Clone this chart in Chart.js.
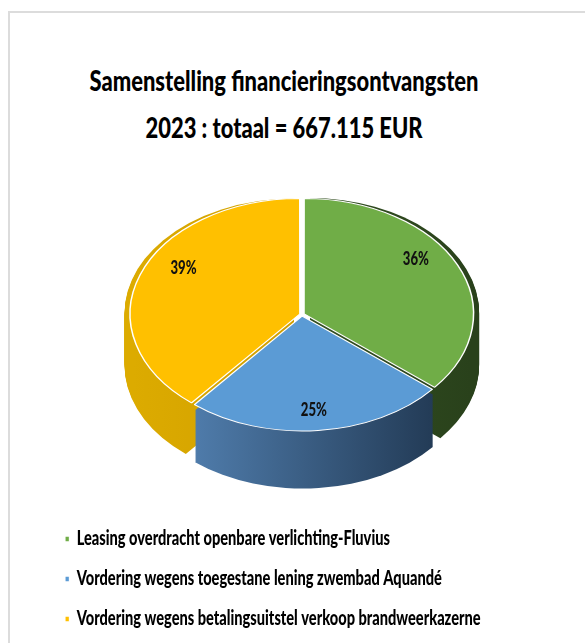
<!DOCTYPE html>
<html>
<head>
<meta charset="utf-8">
<script src="https://cdn.jsdelivr.net/npm/chart.js@4.4.1/dist/chart.umd.min.js"></script>
<style>
  body { margin: 0; background: #fff; }
  #frame { position: absolute; left: 8px; top: 11px; width: 577px; height: 632px; border-left: 2px solid #dcdcdc; border-top: 2px solid #dcdcdc; }
  #title { position: absolute; left: 0; top: 56px; width: 568px; text-align: center; font-family: Lato, sans-serif; font-weight: 900; font-size: 29px; line-height: 47px; color: #000; white-space: nowrap; }
  #chart { position: absolute; left: 0; top: 0; }
</style>
</head>
<body>
<div id="frame"></div>
<div id="title">Samenstelling financieringsontvangsten<br>2023 : totaal = 667.115 EUR</div>
<canvas id="chart" width="585" height="643"></canvas>
<script>
const categories = [
  'Leasing overdracht openbare verlichting-Fluvius',
  'Vordering wegens toegestane lening zwembad Aquandé',
  'Vordering wegens betalingsuitstel verkoop brandweerkazerne'
];
const amounts = [240161, 166779, 260175];
const topColors = ['#70ad47', '#5b9bd5', '#ffc000'];
const sideColors = [['#3e6029', '#29411b'], ['#5a8cc0', '#1c3149'], ['#dcab00', '#c49200']];

const K = 0.68;    // vertical squash of the pie disc
const DEPTH = 53;  // thickness of the disc in px
const FONT = 'Lato, sans-serif';

// the reference uses a narrow font, so text is squeezed horizontally
const m = document.createElement('canvas').getContext('2d');
m.font = '900 29px ' + FONT;
const titleSx = 389 / m.measureText('Samenstelling financieringsontvangsten').width;
document.getElementById('title').style.transform = 'scaleX(' + titleSx + ')';
m.font = '900 20px ' + FONT;
const legendSx = 404 / m.measureText(categories[2]).width;
const LEGEND_X = 65;

function slicePath(ctx, arc) {
  const p = arc.getProps(['x', 'y', 'startAngle', 'endAngle', 'outerRadius'], true);
  const off = arc.options.offset || 0;
  const mid = (p.startAngle + p.endAngle) / 2;
  const x = p.x + Math.cos(mid) * off, y = p.y + Math.sin(mid) * off;
  ctx.beginPath();
  ctx.moveTo(x, y);
  ctx.arc(x, y, p.outerRadius, p.startAngle, p.endAngle);
  ctx.closePath();
}

function squash(ctx, cx, cy, dy) {
  ctx.translate(cx, cy + dy);
  ctx.scale(1, K);
  ctx.translate(-cx, -cy);
}

const pie3d = {
  id: 'pie3d',
  afterLayout(chart) {
    // widen the legend box so its clip still covers the squeezed text
    const lg = chart.legend;
    lg.right = LEGEND_X + (lg.right - LEGEND_X) / legendSx;
    lg.width = lg.right - lg.left;
  },
  beforeDraw(chart) {
    // only the legend is drawn between here and beforeDatasetsDraw
    const ctx = chart.ctx;
    ctx.save();
    ctx.translate(LEGEND_X, 0);
    ctx.scale(legendSx, 1);
    ctx.translate(-LEGEND_X, 0);
  },
  beforeDatasetsDraw(chart) {
    const ctx = chart.ctx;
    ctx.restore();
    const arcs = chart.getDatasetMeta(0).data;
    const cx = arcs[0].x, cy = arcs[0].y, r = arcs[0].outerRadius;
    // side walls, back slices first so the front one covers them
    [0, 2, 1].forEach(i => {
      const g = ctx.createLinearGradient(cx - r, 0, cx + r, 0);
      g.addColorStop(0, sideColors[i][0]);
      g.addColorStop(1, sideColors[i][1]);
      for (let d = DEPTH; d > 0; d--) {
        ctx.save();
        squash(ctx, cx, cy, d);
        slicePath(ctx, arcs[i]);
        ctx.fillStyle = g;
        ctx.fill();
        ctx.restore();
      }
    });
    ctx.save();
    squash(ctx, cx, cy, 0);
  },
  afterDatasetsDraw(chart) {
    const ctx = chart.ctx;
    ctx.restore();
    const arcs = chart.getDatasetMeta(0).data;
    const total = amounts.reduce((a, b) => a + b, 0);
    ctx.font = '900 18px ' + FONT;
    ctx.fillStyle = '#111';
    ctx.textAlign = 'center';
    ctx.textBaseline = 'middle';
    arcs.forEach((a, i) => {
      const mid = (a.startAngle + a.endAngle) / 2;
      const x = a.x + Math.cos(mid) * a.outerRadius * 0.745;
      const y = a.y + Math.sin(mid) * a.outerRadius * K * 0.92 - 10;
      ctx.save();
      ctx.translate(x, y);
      ctx.scale(legendSx, 1);
      ctx.fillText(Math.round(amounts[i] / total * 100) + '%', 0, 0);
      ctx.restore();
    });
  }
};

new Chart(document.getElementById('chart'), {
  type: 'pie',
  data: {
    labels: categories,
    datasets: [{
      data: amounts,
      backgroundColor: topColors,
      borderColor: '#ffffff',
      borderWidth: 1.5,
      offset: 9,
      radius: 169,
      clip: false
    }]
  },
  options: {
    responsive: false,
    animation: false,
    events: [],
    layout: { padding: { top: 120, left: LEGEND_X - 20, right: 26, bottom: 4 } },
    plugins: {
      title: { display: false },
      tooltip: { enabled: false },
      legend: {
        position: 'bottom',
        align: 'start',
        labels: {
          boxWidth: 6,
          boxHeight: 6,
          padding: 20,
          color: '#000',
          font: { family: FONT, size: 20, weight: 900 }
        }
      }
    }
  },
  plugins: [pie3d]
});
</script>
</body>
</html>
